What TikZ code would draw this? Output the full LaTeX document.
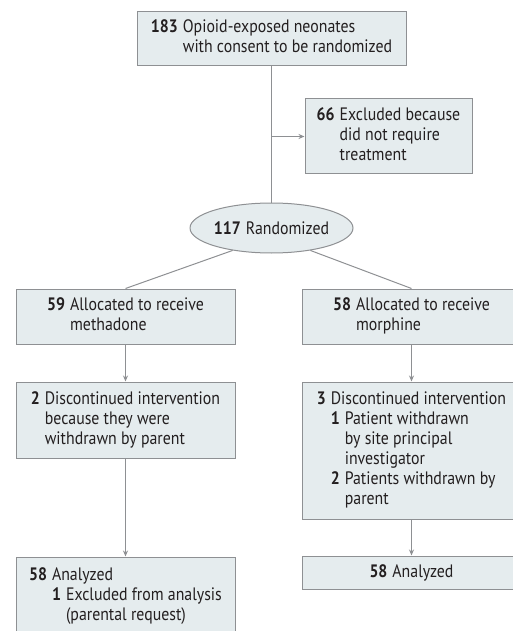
\documentclass[tikz,border=0pt]{standalone}
\usepackage{fontspec}
\setmainfont[FakeStretch=0.88]{PT Sans}
\usetikzlibrary{shapes.geometric,arrows.meta}

\definecolor{boxfill}{HTML}{E5ECEE}
\definecolor{boxline}{HTML}{8E9093}
\definecolor{inktext}{HTML}{231F20}

\tikzstyle{flowbox}=[rectangle,draw=boxline,fill=boxfill,line width=1pt,text=inktext,inner sep=0pt,font=\fontsize{18}{20}\selectfont]
\tikzstyle{flowoval}=[ellipse,draw=boxline,fill=boxfill,line width=1pt,text=inktext,inner sep=0pt,minimum width=154pt,minimum height=50pt,font=\fontsize{18}{20}\selectfont]
\tikzstyle{link}=[draw=boxline,line width=1pt]
\tikzstyle{flow}=[link,-{Stealth[length=6pt,width=5pt]}]

\newcommand{\cnt}[1]{\textbf{#1}}
\newcommand{\rows}[1]{\begin{tabular}{@{}l@{\hspace{5pt}}l@{}}#1\end{tabular}}

\begin{document}
\begin{tikzpicture}[x=1pt,y=-1pt]
	\useasboundingbox (0,0) rectangle (512,631);
	
	\node[flowbox,minimum width=269pt,minimum height=54pt] (consent) at (271.5,39) {\rows{\cnt{183} & Opioid-exposed neonates\\ & with consent to be randomized}};
	\node[flowbox,minimum width=167pt,minimum height=75pt] (excluded) at (388.5,136.5) {\rows{\cnt{66} & Excluded because\\ & did not require\\ & treatment}};
	\node[flowoval] (randomized) at (271.5,228) {\cnt{117}\hspace{5pt}Randomized};
	
	\node[flowbox,minimum width=219pt,minimum height=55pt] (methadone) at (125.5,316.5) {\rows{\cnt{59} & Allocated to receive\\ & methadone}};
	\node[flowbox,minimum width=219pt,minimum height=55pt] (morphine) at (411.5,316.5) {\rows{\cnt{58} & Allocated to receive\\ & morphine}};
	
	\node[flowbox,minimum width=219pt,minimum height=76pt] (stopleft) at (125.5,420) {\rows{\cnt{2} & Discontinued intervention\\ & because they were\\ & withdrawn by parent}};
	\node[flowbox,minimum width=219pt,minimum height=137pt] (stopright) at (411.5,450.5) {\rows{\cnt{3} & Discontinued intervention\\ & \rows{\cnt{1} & Patient withdrawn\\ & by site principal\\ & investigator\\ \cnt{2} & Patients withdrawn by\\ & parent}}};
	
	\node[flowbox,minimum width=219pt,minimum height=78pt] (analleft) at (125.5,596) {\rows{\cnt{58} & Analyzed\\ & \rows{\cnt{1} & Excluded from analysis\\ & (parental request)}}};
	\node[flowbox,minimum width=219pt,minimum height=33pt] (analright) at (411.5,572.5) {\cnt{58}\hspace{5pt}Analyzed};
	
	\draw[link] (consent.south) -- (randomized.north);
	\draw[flow] (consent.south |- excluded.west) -- (excluded.west);
	\draw[link] (randomized.210) -- (methadone.north);
	\draw[link] (randomized.330) -- (morphine.north);
	\draw[flow] (methadone) -- (stopleft);
	\draw[flow] (morphine) -- (stopright);
	\draw[flow] (stopleft) -- (analleft);
	\draw[flow] (stopright) -- (analright);
\end{tikzpicture}
\end{document}
